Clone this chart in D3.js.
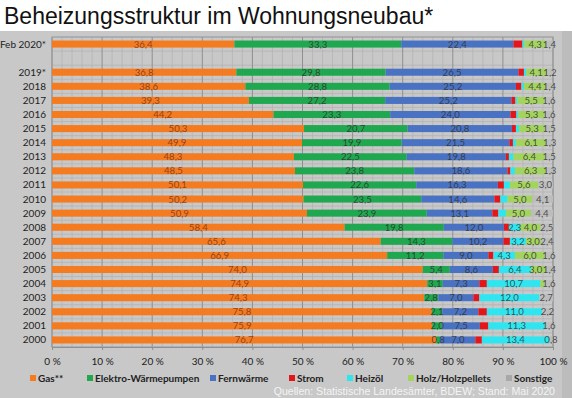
<!DOCTYPE html>
<html>
<head>
<meta charset="utf-8">
<script src="https://cdn.jsdelivr.net/npm/d3@7"></script>
<style>
  body { margin: 0; background: #fff; }
  svg { display: block; }
</style>
</head>
<body>
<svg id="chart" width="572" height="398"></svg>
<script>
// categories top to bottom, "" is the empty spacer row
const categories = ["Feb 2020*", "", "2019*", "2018", "2017", "2016", "2015", "2014", "2013", "2012",
    "2011", "2010", "2009", "2008", "2007", "2006", "2005", "2004", "2003", "2002", "2001", "2000"];

const gas     = [36.4, null, 36.8, 38.6, 39.3, 44.2, 50.3, 49.9, 48.3, 48.5, 50.1, 50.2, 50.9, 58.4, 65.6, 66.9, 74.0, 74.9, 74.3, 75.8, 75.9, 76.7];
const waerme  = [33.3, null, 29.8, 28.8, 27.2, 23.3, 20.7, 19.9, 22.5, 23.8, 22.6, 23.5, 23.9, 19.8, 14.3, 11.2, 5.4, 3.1, 2.8, 2.1, 2.0, 0.8];
const fern    = [22.4, null, 26.5, 25.2, 25.2, 24.0, 20.8, 21.5, 19.8, 18.6, 16.3, 14.6, 13.1, 12.0, 10.2, 9.0, 8.6, 7.3, 7.0, 7.2, 7.5, 7.0];
const strom   = [1.8, null, 1.1, 1.1, 0.8, 1.2, 0.8, 0.7, 0.6, 0.6, 1.2, 1.2, 1.2, 1.0, 1.3, 1.0, 1.2, 1.5, 1.2, 1.7, 1.7, 1.3];
const heizoel = [0.4, null, 0.5, 0.5, 0.4, 0.4, 0.6, 0.6, 0.9, 0.9, 1.2, 1.4, 1.5, 2.3, 3.2, 4.3, 6.4, 10.7, 12.0, 11.0, 11.3, 13.4];
const holz    = [4.3, null, 4.1, 4.4, 5.5, 5.3, 5.3, 6.1, 6.4, 6.3, 5.6, 5.0, 5.0, 4.0, 3.0, 6.0, 3.0, 0.9, 0, 0, 0, 0];
const sonst   = [1.4, null, 1.2, 1.4, 1.6, 1.6, 1.5, 1.3, 1.5, 1.3, 3.0, 4.1, 4.4, 2.5, 2.4, 1.6, 1.4, 1.6, 2.7, 2.2, 1.6, 0.8];

const seriesNames = ["Gas**", "Elektro-Wärmepumpen", "Fernwärme", "Strom", "Heizöl", "Holz/Holzpellets", "Sonstige"];
const seriesValues = [gas, waerme, fern, strom, heizoel, holz, sonst];
const xTicks = [0, 10, 20, 30, 40, 50, 60, 70, 80, 90, 100];

const colors = ["#f47b20", "#1fa84f", "#4a72c2", "#e3161c", "#2fe6f0", "#a3d45e", "#bdbdbd"];
const minLabel = [0, 0, 0, 99, 2, 2, 0]; // labels hidden below these values

const W = 572, H = 398;
const margin = { left: 52, right: 19, top: 37, bottom: 51 };

const svg = d3.select("#chart");
const de = d3.formatLocale({ decimal: ",", thousands: ".", grouping: [3], currency: ["", "€"] });
const fmt = de.format(".1f");

// title
svg.append("text")
    .attr("x", 4).attr("y", 24)
    .attr("font-family", "Liberation Sans, Arial, sans-serif")
    .attr("font-size", 23)
    .attr("fill", "#111")
    .text("Beheizungsstruktur im Wohnungsneubau*");

// grey panel
svg.append("rect").attr("x", 0).attr("y", 31).attr("width", W).attr("height", H - 31).attr("fill", "#c8c8c8");
svg.append("rect").attr("x", 562).attr("y", 31).attr("width", 10).attr("height", H - 31).attr("fill", "#bcbcbc");

const x = d3.scaleLinear().domain([0, 100]).range([margin.left, W - margin.right]);
const y = d3.scaleBand().domain(categories).range([margin.top, H - margin.bottom])
    .paddingInner(0.5).paddingOuter(0.25);

// minor gridlines every 2 %
svg.append("g").selectAll("line")
    .data(d3.range(2, 100, 2).filter(d => d % 10 !== 0))
    .join("line")
    .attr("x1", d => x(d)).attr("x2", d => x(d))
    .attr("y1", margin.top).attr("y2", H - margin.bottom)
    .attr("stroke", "#b4b4b4").attr("stroke-width", 0.8);

// horizontal lines at category borders
svg.append("g").selectAll("line")
    .data(categories)
    .join("line")
    .attr("x1", x(0)).attr("x2", x(100))
    .attr("y1", d => y(d) - y.step() * y.paddingInner() / 2)
    .attr("y2", d => y(d) - y.step() * y.paddingInner() / 2)
    .attr("stroke", "#b4b4b4").attr("stroke-width", 0.8);

// major gridlines
svg.append("g").selectAll("line")
    .data(xTicks)
    .join("line")
    .attr("x1", d => x(d)).attr("x2", d => x(d))
    .attr("y1", margin.top).attr("y2", H - margin.bottom)
    .attr("stroke", "#8f8f8f").attr("stroke-width", 1);

svg.append("rect")
    .attr("x", x(0)).attr("y", margin.top)
    .attr("width", x(100) - x(0)).attr("height", H - margin.bottom - margin.top)
    .attr("fill", "none").attr("stroke", "#9a9a9a");

// stacked bars
const rows = categories.map((c, i) => {
    const r = { cat: c };
    seriesNames.forEach((s, k) => r[s] = seriesValues[k][i] || 0);
    return r;
}).filter(r => r.cat !== "");

const stack = d3.stack().keys(seriesNames)(rows);

const layers = svg.append("g").selectAll("g")
    .data(stack)
    .join("g")
    .attr("fill", (d, k) => colors[k]);

layers.selectAll("rect")
    .data(d => d)
    .join("rect")
    .attr("x", d => x(d[0]))
    .attr("y", d => y(d.data.cat))
    .attr("width", d => x(d[1]) - x(d[0]))
    .attr("height", y.bandwidth());

// value labels
const labels = svg.append("g")
    .attr("font-family", "Lato, sans-serif")
    .attr("font-size", 9.6)
    .attr("text-anchor", "middle");

stack.forEach((layer, k) => {
    labels.selectAll(null)
        .data(layer.filter(d => d[1] - d[0] >= minLabel[k] && d[1] - d[0] > 0))
        .join("text")
        .attr("class", d => "lab row-" + rows.indexOf(d.data))
        .attr("x", d => x((d[0] + d[1]) / 2))
        .attr("y", d => y(d.data.cat) + y.bandwidth() / 2 + 3.5)
        .attr("fill", k === 0 ? "#8a3a14" : "#2e2e2e")
        .attr("fill-opacity", k === 0 ? 0.9 : 0.8)
        .text(d => fmt(d[1] - d[0]));
});

// nudge crowded labels apart at the right end of a bar
rows.forEach((r, i) => {
    const nodes = labels.selectAll(".row-" + i).nodes();
    for (let j = nodes.length - 1; j > 0; j--) {
        const a = nodes[j - 1], b = nodes[j];
        const ax = +a.getAttribute("x"), bx = +b.getAttribute("x");
        const gap = (bx - b.getComputedTextLength() / 2) - (ax + a.getComputedTextLength() / 2);
        if (gap < 0.5) a.setAttribute("x", ax + gap - 0.5);
    }
});

// y axis labels
svg.append("g")
    .attr("font-family", "Lato, sans-serif")
    .attr("font-size", 10)
    .attr("text-anchor", "end")
    .selectAll("text")
    .data(categories.filter(c => c !== ""))
    .join("text")
    .attr("x", 46)
    .attr("y", d => y(d) + y.bandwidth() / 2 + 3.5)
    .attr("fill", "#222")
    .text(d => d);

// x axis
const xAxis = svg.append("g")
    .attr("transform", `translate(0,${H - margin.bottom})`)
    .call(d3.axisBottom(x).tickValues(xTicks).tickSize(3).tickFormat(d => d + " %"));
xAxis.select(".domain").attr("stroke", "#8f8f8f");
xAxis.selectAll(".tick line").attr("stroke", "#8f8f8f");
xAxis.selectAll("text")
    .attr("font-family", "Lato, sans-serif")
    .attr("font-size", 10)
    .attr("fill", "#222")
    .attr("dy", "1.2em");

// legend
const legendX = [30, 87, 210, 289, 347, 408, 506];
const legend = svg.append("g").selectAll("g")
    .data(seriesNames)
    .join("g")
    .attr("transform", (d, i) => `translate(${legendX[i]},374)`);
legend.append("rect").attr("width", 6).attr("height", 6).attr("y", 1).attr("fill", (d, i) => colors[i] === "#bdbdbd" ? "#a8a8a8" : colors[i]);
legend.append("text")
    .attr("x", 8).attr("y", 7.5)
    .attr("font-family", "Lato, sans-serif")
    .attr("font-size", 10)
    .attr("font-weight", "bold")
    .attr("fill", "#222")
    .text(d => d);

// source
svg.append("text")
    .attr("x", 555).attr("y", 395)
    .attr("text-anchor", "end")
    .attr("font-family", "Liberation Sans, Arial, sans-serif")
    .attr("font-size", 10.6)
    .attr("fill", "#f4f4f4")
    .text("Quellen: Statistische Landesämter, BDEW; Stand: Mai 2020");
</script>
</body>
</html>
